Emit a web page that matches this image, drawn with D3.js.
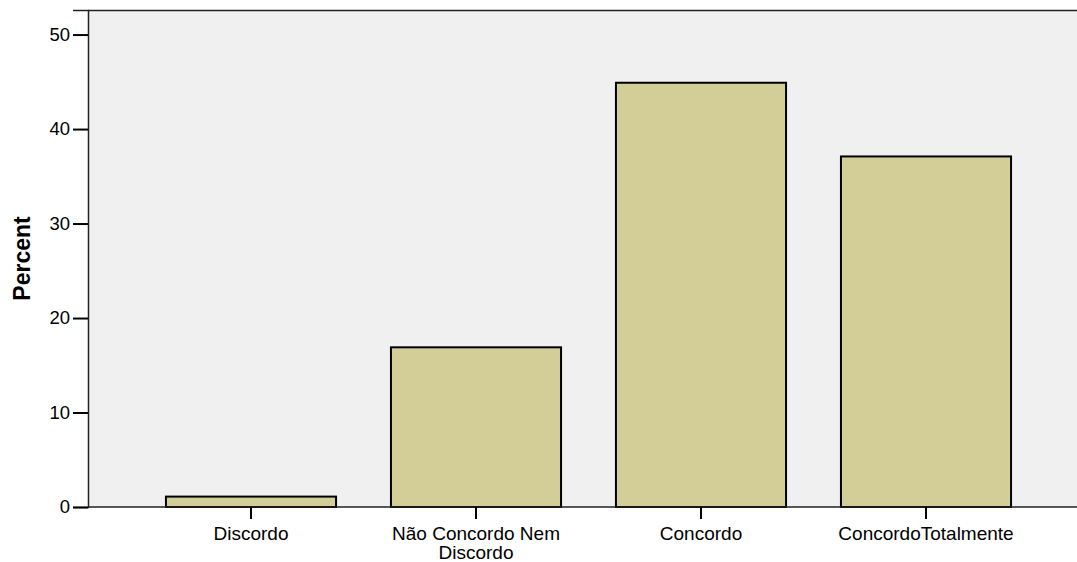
<!DOCTYPE html>
<html>
<head>
<meta charset="utf-8">
<script src="https://cdn.jsdelivr.net/npm/d3@7"></script>
<style>
  html, body { margin: 0; padding: 0; background: #ffffff; }
  svg { display: block; }
  text { font-family: "Liberation Sans", Arial, sans-serif; fill: #000; }
</style>
</head>
<body>
<svg id="chart" width="1077" height="562"></svg>
<script>
const categories = ["Discordo", "Não Concordo Nem Discordo", "Concordo", "ConcordoTotalmente"];
const categoryLines = [["Discordo"], ["Não Concordo Nem", "Discordo"], ["Concordo"], ["ConcordoTotalmente"]];
const percentValues = [1.1, 16.9, 44.9, 37.1];
const yTicks = [0, 10, 20, 30, 40, 50];
const yTitle = "Percent";

const W = 1077, H = 562;
const plot = { left: 88, right: 1077, top: 10, bottom: 507 };

const svg = d3.select("#chart");

const y = d3.scaleLinear().domain([0, 52.6]).range([plot.bottom, plot.top]);
const x = d3.scaleBand()
  .domain(categories)
  .range([138.5, 1038.5])
  .paddingInner(0.244)
  .paddingOuter(0.122);

// plot background
svg.append("rect")
  .attr("x", plot.left).attr("y", plot.top)
  .attr("width", plot.right - plot.left).attr("height", plot.bottom - plot.top)
  .attr("fill", "#f0f0f0");

// top border
svg.append("line")
  .attr("x1", plot.left).attr("x2", plot.right)
  .attr("y1", plot.top + 0.5).attr("y2", plot.top + 0.5)
  .attr("stroke", "#222").attr("stroke-width", 1.5);

// bars
svg.append("g").selectAll("rect")
  .data(categories)
  .join("rect")
  .attr("x", d => x(d))
  .attr("y", (d, i) => y(percentValues[i]))
  .attr("width", x.bandwidth())
  .attr("height", (d, i) => y(0) - y(percentValues[i]))
  .attr("fill", "#d3ce98")
  .attr("stroke", "#000")
  .attr("stroke-width", 2);

// y axis
const yAxis = d3.axisLeft(y).tickValues(yTicks).tickSize(15).tickPadding(3).tickFormat(d3.format("d"));
const gy = svg.append("g").attr("transform", `translate(${plot.left},0)`).call(yAxis);
gy.select(".domain").attr("stroke", "#222").attr("stroke-width", 1.5);
gy.selectAll(".tick line").attr("stroke", "#000").attr("stroke-width", 2);
gy.selectAll(".tick text").attr("font-size", 18.5).attr("font-family", '"Liberation Sans", Arial, sans-serif').attr("fill", "#000");

// x axis
const xAxis = d3.axisBottom(x).tickSize(12).tickSizeOuter(0).tickFormat("");
const gx = svg.append("g").attr("transform", `translate(0,${plot.bottom})`).call(xAxis);
gx.select(".domain").attr("d", `M${plot.left},0H${plot.right}`).attr("stroke", "#222").attr("stroke-width", 1.5);
gx.selectAll(".tick line").attr("stroke", "#000").attr("stroke-width", 2);

gx.selectAll(".tick").each(function(d, i) {
  const t = d3.select(this).append("text")
    .attr("text-anchor", "middle")
    .attr("font-size", 19)
    .attr("font-family", '"Liberation Sans", Arial, sans-serif')
    .attr("fill", "#000");
  categoryLines[i].forEach((line, j) => {
    t.append("tspan").attr("x", 0).attr("y", 33 + j * 19).text(line);
  });
});

// y title
svg.append("text")
  .attr("transform", `translate(29.5,${(plot.top + plot.bottom) / 2}) rotate(-90)`)
  .attr("text-anchor", "middle")
  .attr("font-size", 23)
  .attr("font-weight", "bold")
  .text(yTitle);
</script>
</body>
</html>
